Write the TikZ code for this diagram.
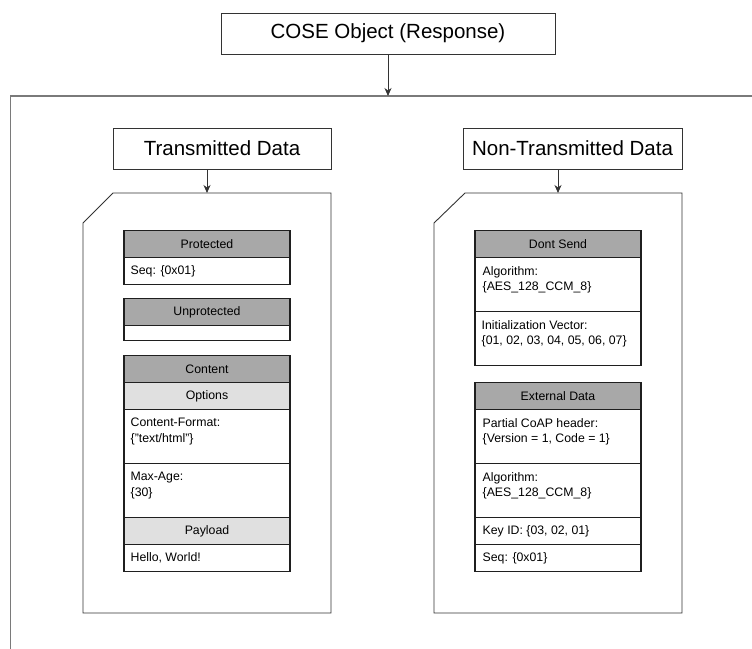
\documentclass[tikz,border=0pt]{standalone}
\usepackage{fontspec}
\setmainfont{Liberation Sans}
\usetikzlibrary{arrows.meta,calc}
\definecolor{hdrgray}{HTML}{A8A8A8}
\definecolor{subgray}{HTML}{E0E0E0}
\definecolor{outergray}{HTML}{7A7A7A}
\definecolor{linedark}{HTML}{333333}
\begin{document}
\begin{tikzpicture}[x=1pt,y=-1pt,
  titlebox/.style={draw=linedark, line width=0.8pt, inner sep=0pt, font=\fontsize{20.5}{24}\selectfont},
  hdr/.style={draw=black!88, line width=1.1pt, fill=hdrgray, minimum width=166pt, minimum height=27pt, inner sep=0pt, anchor=north, font=\fontsize{12.3}{15.7}\selectfont},
  subhdr/.style={hdr, fill=subgray},
  cellbox/.style={hdr, fill=white},
  celltext/.style={inner sep=0pt, anchor=north west, align=left, font=\fontsize{12.3}{15.7}\selectfont},
  onetext/.style={celltext, anchor=west},
  container/.style={draw=linedark, line width=0.9pt},
  arr/.style={-{Stealth[length=8pt,width=7pt,inset=2.5pt]}, line width=0.8pt, draw=linedark}
]
\useasboundingbox (0,0) rectangle (752,648);
\fill[white] (0,0) rectangle (752,648);

% top title
\node[titlebox, minimum width=334pt, minimum height=41pt] (cose) at (388,33.5) {COSE Object (Response)};
\coordinate (otop) at (388,96);
\draw[outergray, line width=1.2pt] (753,96) -- (10.5,96) -- (10.5,649);
\draw[arr] (cose.south) -- (otop);

% section titles
\node[titlebox, minimum width=218pt, minimum height=41pt] (tx) at (222,148.5) {Transmitted Data};
\node[titlebox, minimum width=219pt, minimum height=41pt] (ntx) at (572.5,148.5) {Non-Transmitted Data};

% containers
\coordinate (ltop) at (207,193);
\coordinate (rtop) at (558,193);
\draw[container] (113,193) -- (331,193) -- (331,613) -- (83,613) -- (83,223) -- cycle;
\draw[container] (465,193) -- (682,193) -- (682,613) -- (434,613) -- (434,223) -- cycle;
\draw[arr] (tx.south -| ltop) -- (ltop);
\draw[arr] (ntx.south -| rtop) -- (rtop);

% left table: Protected
\node[hdr] (ph) at (207,230) {Protected};
\node[cellbox] (ps) at (207,257) {};
\node[onetext] (pst) at ([xshift=7pt]ps.west) {Seq: \{0x01\}};

% Unprotected
\node[hdr] (uh) at (207,298) {Unprotected};
\node[cellbox, minimum height=15pt] (ub) at (207,325) {};

% Content
\node[hdr] (ch) at (207,355) {Content};
\node[subhdr] (co) at (207,382) {Options};
\node[cellbox, minimum height=54pt] (cf) at (207,409) {};
\node[celltext] (cft) at ([xshift=7pt,yshift=-9pt]cf.north west) {Content-Format:\\\{"text/html"\}};
\node[cellbox, minimum height=54pt] (ma) at (207,463) {};
\node[celltext] (mat) at ([xshift=7pt,yshift=-9pt]ma.north west) {Max-Age:\\\{30\}};
\node[subhdr] (pl) at (207,517) {Payload};
\node[cellbox] (hw) at (207,544) {};
\node[onetext] (hwt) at ([xshift=7pt]hw.west) {Hello, World!};

% right table: Dont Send
\node[hdr] (dh) at (558,230) {Dont Send};
\node[cellbox, minimum height=54pt] (da) at (558,257) {};
\node[celltext] (dat) at ([xshift=8pt,yshift=-9pt]da.north west) {Algorithm:\\\{AES\_128\_CCM\_8\}};
\node[cellbox, minimum height=54pt] (dv) at (558,311) {};
\node[celltext] (dvt) at ([xshift=7pt,yshift=-9pt]dv.north west) {Initialization Vector:\\\{01, 02, 03, 04, 05, 06, 07\}};

% External Data
\node[hdr] (eh) at (558,382) {External Data};
\node[cellbox, minimum height=54pt] (ep) at (558,409) {};
\node[celltext] (ept) at ([xshift=8pt,yshift=-9pt]ep.north west) {Partial CoAP header:\\\{Version = 1, Code = 1\}};
\node[cellbox, minimum height=54pt] (ea) at (558,463) {};
\node[celltext] (eat) at ([xshift=8pt,yshift=-9pt]ea.north west) {Algorithm:\\\{AES\_128\_CCM\_8\}};
\node[cellbox] (ek) at (558,517) {};
\node[onetext] (ekt) at ([xshift=8pt]ek.west) {Key ID: \{03, 02, 01\}};
\node[cellbox] (es) at (558,544) {};
\node[onetext] (est) at ([xshift=8pt]es.west) {Seq: \{0x01\}};
\end{tikzpicture}
\end{document}
